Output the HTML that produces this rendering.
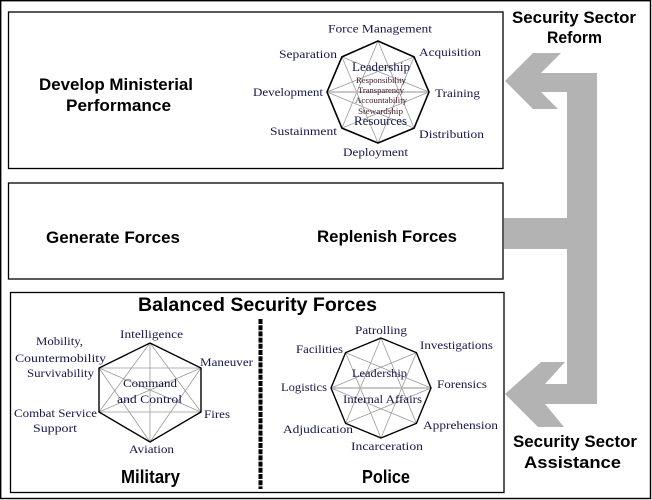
<!DOCTYPE html>
<html>
<head>
<meta charset="utf-8">
<style>
  html,body{margin:0;padding:0;background:#fff;}
  svg{display:block;}
  .sans{font-family:"Liberation Sans",Arial,sans-serif;font-weight:bold;fill:#000;}
  .ser{font-family:"Liberation Serif","Times New Roman",serif;fill:#16164a;font-size:12px;}
  .sm{font-family:"Liberation Serif","Times New Roman",serif;fill:#3e1828;font-size:8.5px;}
  .big{font-family:"Liberation Serif","Times New Roman",serif;fill:#16164a;font-size:13px;}
</style>
</head>
<body>
<svg width="652" height="500" viewBox="0 0 652 500" xmlns="http://www.w3.org/2000/svg">
  <!-- outer frame -->
  <rect x="0.7" y="0.7" width="649.8" height="497.8" fill="#fff" stroke="#000" stroke-width="1.4"/>

  <!-- boxes -->
  <rect x="8.5" y="12" width="494.5" height="156.5" fill="none" stroke="#000" stroke-width="1.3"/>
  <rect x="8.5" y="183" width="494.5" height="96" fill="none" stroke="#000" stroke-width="1.3"/>
  <rect x="10.5" y="292.5" width="493.5" height="200" fill="none" stroke="#000" stroke-width="1.3"/>

  <!-- gray arrows -->
  <g fill="#b3b3b3">
    <polygon points="505,81 533,53 561,53 541,73 567,73 567,92 541,92 558,109 533,109"/>
    <rect x="567" y="73" width="30" height="331"/>
    <rect x="504" y="218" width="64" height="31"/>
    <polygon points="505,394 541,362 565,362 545,384 567,384 567,404 545,404 564,427 538,427"/>
  </g>

  <!-- dashed divider -->
  <line x1="260.5" y1="319" x2="260.5" y2="489" stroke="#000" stroke-width="4" stroke-dasharray="5 1.2"/>

  <!-- TOP OCTAGON -->
  <g stroke="#9a9a9a" stroke-width="0.8" fill="none">
    <line x1="378" y1="41" x2="414.1" y2="128.1"/>
    <line x1="414.1" y1="56.9" x2="378" y2="143"/>
    <line x1="429" y1="92" x2="341.9" y2="128.1"/>
    <line x1="414.1" y1="128.1" x2="327" y2="92"/>
    <line x1="378" y1="143" x2="341.9" y2="56.9"/>
    <line x1="341.9" y1="128.1" x2="378" y2="41"/>
    <line x1="327" y1="92" x2="414.1" y2="56.9"/>
    <line x1="341.9" y1="56.9" x2="429" y2="92"/>
    <line x1="327" y1="92" x2="429" y2="92" stroke="#b5b5b5" stroke-width="1.4"/>
  </g>
  <polygon points="378,41 414.1,56.9 429,92 414.1,128.1 378,143 341.9,128.1 327,92 341.9,56.9" fill="none" stroke="#000" stroke-width="1.6"/>

  <!-- POLICE OCTAGON -->
  <g stroke="#9a9a9a" stroke-width="0.8" fill="none">
    <line x1="381" y1="338" x2="416.4" y2="423.4"/>
    <line x1="416.4" y1="352.6" x2="381" y2="438"/>
    <line x1="431" y1="388" x2="345.6" y2="423.4"/>
    <line x1="416.4" y1="423.4" x2="331" y2="388"/>
    <line x1="381" y1="438" x2="345.6" y2="352.6"/>
    <line x1="345.6" y1="423.4" x2="381" y2="338"/>
    <line x1="331" y1="388" x2="416.4" y2="352.6"/>
    <line x1="345.6" y1="352.6" x2="431" y2="388"/>
    <line x1="331" y1="388" x2="431" y2="388" stroke="#b5b5b5" stroke-width="1.4"/>
  </g>
  <polygon points="381,338 416.4,352.6 431,388 416.4,423.4 381,438 345.6,423.4 331,388 345.6,352.6" fill="none" stroke="#000" stroke-width="1.4"/>

  <!-- HEXAGON -->
  <g stroke="#9a9a9a" stroke-width="0.8" fill="none">
    <line x1="150" y1="343" x2="201" y2="412"/>
    <line x1="150" y1="343" x2="99" y2="412"/>
    <line x1="150" y1="343" x2="150" y2="442"/>
    <line x1="201" y1="368" x2="99" y2="368"/>
    <line x1="201" y1="368" x2="150" y2="442"/>
    <line x1="201" y1="368" x2="99" y2="412"/>
    <line x1="201" y1="412" x2="99" y2="412"/>
    <line x1="201" y1="412" x2="99" y2="368"/>
    <line x1="150" y1="442" x2="99" y2="368"/>
  </g>
  <polygon points="150,343 201,368 201,412 150,442 99,412 99,368" fill="none" stroke="#000" stroke-width="1.4"/>

  <!-- Bold sans texts -->
  <g class="sans">
    <text x="39" y="90" font-size="17" textLength="154" lengthAdjust="spacingAndGlyphs">Develop Ministerial</text>
    <text x="66" y="111" font-size="17" textLength="105" lengthAdjust="spacingAndGlyphs">Performance</text>
    <text x="46" y="243" font-size="17" textLength="134" lengthAdjust="spacingAndGlyphs">Generate Forces</text>
    <text x="317" y="242" font-size="17" textLength="140" lengthAdjust="spacingAndGlyphs">Replenish Forces</text>
    <text x="512" y="23" font-size="17" textLength="124" lengthAdjust="spacingAndGlyphs">Security Sector</text>
    <text x="547" y="43" font-size="17" textLength="55" lengthAdjust="spacingAndGlyphs">Reform</text>
    <text x="513" y="447" font-size="17" textLength="124" lengthAdjust="spacingAndGlyphs">Security Sector</text>
    <text x="524" y="468" font-size="17" textLength="97" lengthAdjust="spacingAndGlyphs">Assistance</text>
    <text x="138" y="311" font-size="19.5" textLength="239" lengthAdjust="spacingAndGlyphs">Balanced Security Forces</text>
    <text x="121" y="483" font-size="18" textLength="59" lengthAdjust="spacingAndGlyphs">Military</text>
    <text x="362" y="483" font-size="18" textLength="48" lengthAdjust="spacingAndGlyphs">Police</text>
  </g>

  <!-- top octagon labels -->
  <g class="ser">
    <text x="328" y="32.5" textLength="104" lengthAdjust="spacingAndGlyphs">Force Management</text>
    <text x="279" y="58" textLength="58" lengthAdjust="spacingAndGlyphs">Separation</text>
    <text x="419" y="56" textLength="62" lengthAdjust="spacingAndGlyphs">Acquisition</text>
    <text x="253" y="96" textLength="70" lengthAdjust="spacingAndGlyphs">Development</text>
    <text x="435" y="97" textLength="45" lengthAdjust="spacingAndGlyphs">Training</text>
    <text x="270" y="135" textLength="67" lengthAdjust="spacingAndGlyphs">Sustainment</text>
    <text x="419" y="138" textLength="65" lengthAdjust="spacingAndGlyphs">Distribution</text>
    <text x="343" y="156" textLength="65" lengthAdjust="spacingAndGlyphs">Deployment</text>
  </g>
  <text class="big" x="352" y="71" textLength="58" lengthAdjust="spacingAndGlyphs">Leadership</text>
  <text class="big" x="354" y="125" textLength="53" lengthAdjust="spacingAndGlyphs">Resources</text>
  <g class="sm">
    <text x="356" y="83" textLength="50" lengthAdjust="spacingAndGlyphs">Responsibility</text>
    <text x="358" y="93" textLength="46" lengthAdjust="spacingAndGlyphs">Transparency</text>
    <text x="355" y="103" textLength="52" lengthAdjust="spacingAndGlyphs">Accountability</text>
    <text x="358" y="114" textLength="45" lengthAdjust="spacingAndGlyphs">Stewardship</text>
  </g>

  <!-- hexagon labels -->
  <g class="ser">
    <text x="120" y="338" textLength="63" lengthAdjust="spacingAndGlyphs">Intelligence</text>
    <text x="36" y="345" textLength="47" lengthAdjust="spacingAndGlyphs">Mobility,</text>
    <text x="15" y="362" textLength="91" lengthAdjust="spacingAndGlyphs">Countermobility</text>
    <text x="27" y="377" textLength="67" lengthAdjust="spacingAndGlyphs">Survivability</text>
    <text x="200" y="366" textLength="53" lengthAdjust="spacingAndGlyphs">Maneuver</text>
    <text x="123" y="387" textLength="54" lengthAdjust="spacingAndGlyphs">Command</text>
    <text x="117" y="403" textLength="65" lengthAdjust="spacingAndGlyphs">and Control</text>
    <text x="14" y="417" textLength="83" lengthAdjust="spacingAndGlyphs">Combat Service</text>
    <text x="33" y="432" textLength="44" lengthAdjust="spacingAndGlyphs">Support</text>
    <text x="204" y="418" textLength="26" lengthAdjust="spacingAndGlyphs">Fires</text>
    <text x="129" y="453" textLength="45" lengthAdjust="spacingAndGlyphs">Aviation</text>
  </g>

  <!-- police labels -->
  <g class="ser">
    <text x="355" y="334" textLength="52" lengthAdjust="spacingAndGlyphs">Patrolling</text>
    <text x="296" y="353" textLength="47" lengthAdjust="spacingAndGlyphs">Facilities</text>
    <text x="420" y="349" textLength="73" lengthAdjust="spacingAndGlyphs">Investigations</text>
    <text x="281" y="391" textLength="46" lengthAdjust="spacingAndGlyphs">Logistics</text>
    <text x="437" y="388" textLength="50" lengthAdjust="spacingAndGlyphs">Forensics</text>
    <text x="352" y="377" textLength="55" lengthAdjust="spacingAndGlyphs">Leadership</text>
    <text x="343" y="403" textLength="79" lengthAdjust="spacingAndGlyphs">Internal Affairs</text>
    <text x="283" y="433" textLength="70" lengthAdjust="spacingAndGlyphs">Adjudication</text>
    <text x="423" y="429" textLength="75" lengthAdjust="spacingAndGlyphs">Apprehension</text>
    <text x="351" y="450" textLength="72" lengthAdjust="spacingAndGlyphs">Incarceration</text>
  </g>
</svg>
</body>
</html>
